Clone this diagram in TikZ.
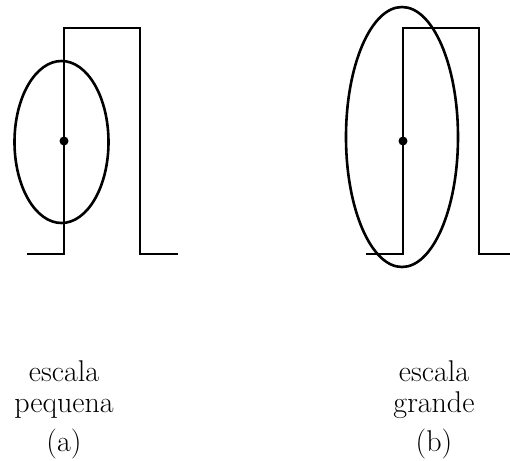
\documentclass[tikz,border=0pt]{standalone}
\usetikzlibrary{positioning}

\tikzset{
  wave/.style={line width=0.55pt},
  blob/.style={line width=1.3pt},
  centre/.style={circle, fill, inner sep=0pt, minimum size=4.5pt},
  caption/.style={font=\fontsize{15}{15.5}\selectfont, align=center, inner sep=0pt},
}

\begin{document}
\begin{tikzpicture}[x=0.5pt,y=-0.5pt]
        \useasboundingbox (0,0) rectangle (510,461);
        % small scale
        \node[centre] (ca) at (64,141) {};
        \draw[wave] (27,254) -- (64,254) -- (64,28) -- (140,28) -- (140,254) -- (178,254);
        \draw[blob] (61.5,142) ellipse [x radius=47, y radius=81];
        % large scale
        \node[centre] (cb) at (403,141) {};
        \draw[wave] (366,254) -- (403,254) -- (403,28) -- (479,28) -- (479,254) -- (510,254);
        \draw[blob] (402,137) ellipse [x radius=56, y radius=130];
        % captions
        \node[caption, anchor=base] (capa) at (64,412) {escala\\pequena};
        \node[caption] (laba) at (64,444) {(a)};
        \node[caption, anchor=base] (capb) at (434,412) {escala\\grande};
        \node[caption] (labb) at (434,444) {(b)};
\end{tikzpicture}
\end{document}
